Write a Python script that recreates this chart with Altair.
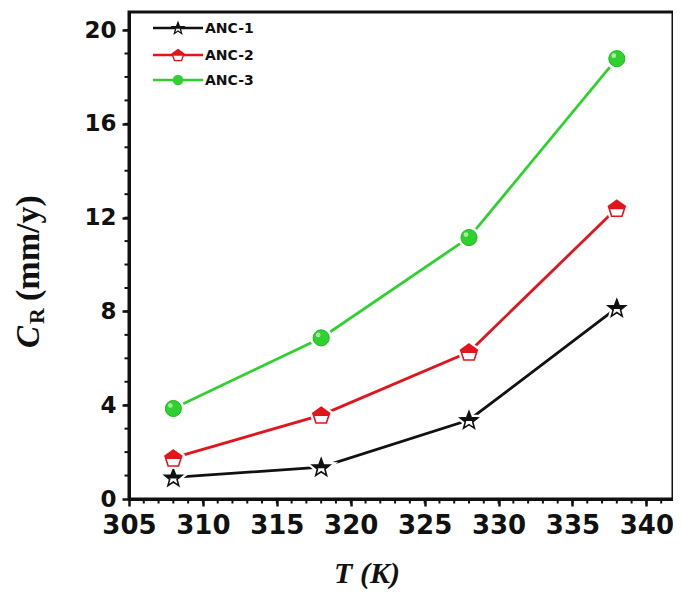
import math
import altair as alt
import pandas as pd

# ---------------- data ----------------
temps = [308, 318, 328, 338]
anc1 = [0.92, 1.36, 3.37, 8.15]
anc2 = [1.75, 3.58, 6.27, 12.4]
anc3 = [3.86, 6.87, 11.15, 18.78]
series_names = ["ANC-1", "ANC-2", "ANC-3"]
series_values = [anc1, anc2, anc3]
colors = ["#111111", "#e3151c", "#2fd12f"]
x_ticks = [305, 310, 315, 320, 325, 330, 335, 340]
y_ticks = [0, 4, 8, 12, 16, 20]
x_minor = list(range(306, 342))
y_minor = list(range(1, 21))

W, H = 544, 487
X_DOMAIN = [305, 341.8]
Y_DOMAIN = [0, 20.77]

rows = []
for name, vals in zip(series_names, series_values):
    for t, v in zip(temps, vals):
        rows.append({"T": t, "CR": v, "series": name})
df = pd.DataFrame(rows)

xscale = alt.Scale(domain=X_DOMAIN, nice=False, zero=False)
yscale = alt.Scale(domain=Y_DOMAIN, nice=False, zero=False)


# ---------------- marker shapes ----------------
def poly_path(pts):
    return "M" + " L".join(f"{x:.3f} {y:.3f}" for x, y in pts) + " Z"


def clip_top(pts, c):
    """keep the part of polygon with y <= c"""
    out = []
    n = len(pts)
    for i in range(n):
        p, q = pts[i], pts[(i + 1) % n]
        pin, qin = p[1] <= c, q[1] <= c
        if pin:
            out.append(p)
        if pin != qin:
            t = (c - p[1]) / (q[1] - p[1])
            out.append((p[0] + t * (q[0] - p[0]), c))
    return out


star_pts = []
for k in range(10):
    a = math.radians(-90 + 36 * k)
    r = 1.0 if k % 2 == 0 else 0.42
    star_pts.append((r * math.cos(a), r * math.sin(a) + 0.08))
pent_pts = []
for k in range(5):
    a = math.radians(-90 + 72 * k)
    pent_pts.append((math.cos(a), math.sin(a) + 0.1))

STAR = poly_path(star_pts)
STAR_TOP = poly_path(clip_top(star_pts, 0.12))
PENT = poly_path(pent_pts)
PENT_TOP = poly_path(clip_top(pent_pts, 0.12))

x_axis = alt.Axis(
    values=x_ticks, title=None, format="d", labelFont="DejaVu Sans",
    labelFontWeight="bold", labelFontSize=26, labelColor="#111",
    labelPadding=6, tickSize=7, tickWidth=2.5, tickColor="#111",
    domainWidth=3, domainColor="#111", grid=False, labelFlush=False,
    labelOverlap=False, labelBound=False)
y_axis = alt.Axis(
    values=y_ticks, title=None, labelFont="DejaVu Sans",
    labelFontWeight="bold", labelFontSize=23, labelColor="#111",
    labelPadding=6, tickSize=7, tickWidth=2.5, tickColor="#111",
    domainWidth=3, domainColor="#111", grid=False, labelFlush=False,
    labelOverlap=False)

X = alt.X("T:Q", scale=xscale, axis=x_axis)
Y = alt.Y("CR:Q", scale=yscale, axis=y_axis)

layers = []

# minor ticks
xm = pd.DataFrame({"T": x_minor})
ym = pd.DataFrame({"CR": y_minor})
layers.append(alt.Chart(xm).mark_rule(color="#111", strokeWidth=2).encode(
    x=X, y=alt.value(H), y2=alt.value(H + 4.5)))
layers.append(alt.Chart(ym).mark_rule(color="#111", strokeWidth=2).encode(
    y=Y, x=alt.value(0), x2=alt.value(-4.5)))

marker_defs = [
    {"shape": STAR, "top": STAR_TOP, "size": 340},
    {"shape": PENT, "top": PENT_TOP, "size": 310},
    {"shape": "circle", "top": None, "size": 260},
]

for name, col, md in zip(series_names, colors, marker_defs):
    sub = df[df["series"] == name]
    base = alt.Chart(sub).encode(x=X, y=Y)
    layers.append(base.mark_line(color=col, strokeWidth=2.8))
    # white halo gap around markers
    layers.append(base.mark_point(shape=md["shape"], size=md["size"], filled=True,
                                  fill="white", stroke="white", strokeWidth=6,
                                  opacity=1))
    if md["top"] is None:
        layers.append(base.mark_point(shape="circle", size=md["size"], filled=True,
                                      fill=col, stroke="#1fb81f", strokeWidth=1,
                                      opacity=1))
        layers.append(base.mark_point(shape="circle", size=22, filled=True,
                                      fill="#b8f7b8", opacity=0.85,
                                      xOffset=-3, yOffset=-3))
    else:
        layers.append(base.mark_point(shape=md["shape"], size=md["size"], filled=True,
                                      fill="white", stroke=col, strokeWidth=1.6,
                                      opacity=1))
        layers.append(base.mark_point(shape=md["top"], size=md["size"], filled=True,
                                      fill=col, opacity=1))

# ---------------- legend ----------------
one = pd.DataFrame({"k": [0]})
leg_y = [16, 43, 68]
leg_marker = [
    {"shape": STAR, "top": STAR_TOP, "size": 150},
    {"shape": PENT, "top": PENT_TOP, "size": 150},
    {"shape": "circle", "top": None, "size": 110},
]
for name, col, ly, md in zip(series_names, colors, leg_y, leg_marker):
    lb = alt.Chart(one)
    layers.append(lb.mark_rule(color=col, strokeWidth=2.4).encode(
        x=alt.value(24), x2=alt.value(74), y=alt.value(ly)))
    if md["top"] is None:
        layers.append(lb.mark_point(shape="circle", size=md["size"], filled=True,
                                    fill=col, opacity=1).encode(
            x=alt.value(49), y=alt.value(ly)))
    else:
        layers.append(lb.mark_point(shape=md["shape"], size=md["size"], filled=True,
                                    fill="white", stroke=col, strokeWidth=1.3,
                                    opacity=1).encode(x=alt.value(49), y=alt.value(ly)))
        layers.append(lb.mark_point(shape=md["top"], size=md["size"], filled=True,
                                    fill=col, opacity=1).encode(
            x=alt.value(49), y=alt.value(ly)))
    layers.append(lb.mark_text(text=name, font="DejaVu Sans", fontWeight="bold",
                               fontSize=14, align="left", baseline="middle",
                               color="#111").encode(x=alt.value(76), y=alt.value(ly + 1)))

# ---------------- axis titles ----------------
serif = "Liberation Serif"
layers.append(alt.Chart(one).mark_text(text="T (K)", font=serif, fontWeight="bold",
                                       fontStyle="italic", fontSize=30, align="center",
                                       baseline="alphabetic", color="#111").encode(
    x=alt.value(238), y=alt.value(571)))
layers.append(alt.Chart(one).mark_text(text="C", font=serif, fontWeight="bold",
                                       fontStyle="italic", fontSize=33, angle=270,
                                       align="left", baseline="alphabetic",
                                       color="#111").encode(
    x=alt.value(-90), y=alt.value(336)))
layers.append(alt.Chart(one).mark_text(text="R", font=serif, fontWeight="bold",
                                       fontSize=22, angle=270,
                                       align="left", baseline="alphabetic",
                                       color="#111").encode(
    x=alt.value(-85), y=alt.value(312)))
layers.append(alt.Chart(one).mark_text(text="(mm/y)", font=serif, fontWeight="bold",
                                       fontSize=34, angle=270,
                                       align="left", baseline="alphabetic",
                                       color="#111").encode(
    x=alt.value(-90), y=alt.value(289)))

chart = alt.layer(*layers).properties(
    width=W, height=H,
    background="white",
    autosize=alt.AutoSizeParams(type="none"),
    padding={"left": 121, "top": 4, "right": 0, "bottom": 92},
).configure_view(stroke="#111", strokeWidth=3)

chart.save("out.html", embed_options={"renderer": "svg", "actions": False})
